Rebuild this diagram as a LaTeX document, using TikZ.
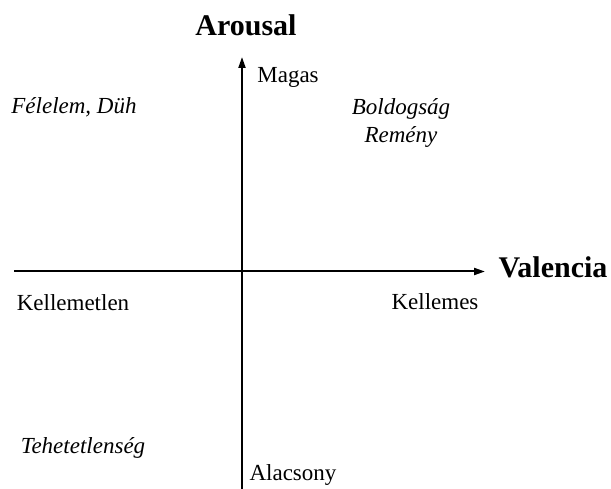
\documentclass[tikz,border=0pt]{standalone}
\usepackage{fontspec}
\setmainfont{Liberation Serif}
\usetikzlibrary{arrows.meta}

\begin{document}
\begin{tikzpicture}[x=1pt,y=-1pt]
  \useasboundingbox (0,0) rectangle (611,489);

  % the two axes
  \coordinate (west)  at (14,271.5);
  \coordinate (east)  at (485,271.5);
  \coordinate (south) at (242,489);
  \coordinate (north) at (242,57);

  \begin{scope}[every path/.style={line width=2pt, -{Triangle[length=11pt,width=7pt]}}]
    \draw (west) -- (east);
    \draw (south) -- (north);
  \end{scope}

  % axis titles
  \begin{scope}[every node/.style={anchor=base, inner sep=0pt, font=\fontsize{30}{34}\selectfont\bfseries}]
    \node (arousal)  at (246,36)  {Arousal};
    \node (valencia) at (553,278) {Valencia};
  \end{scope}

  % axis ends
  \begin{scope}[every node/.style={anchor=base, inner sep=0pt, font=\fontsize{23}{28}\selectfont}]
    \node (magas)       at (288,83)  {Magas};
    \node (alacsony)    at (293,480) {Alacsony};
    \node (kellemetlen) at (73,311)  {Kellemetlen};
    \node (kellemes)    at (435,310) {Kellemes};
  \end{scope}

  % emotions
  \begin{scope}[every node/.style={anchor=base, inner sep=0pt, font=\fontsize{23}{28}\selectfont\itshape}]
    \node (felelem)  at (74,114)  {Félelem, Düh};
    \node (boldog)   at (401,115) {Boldogság};
    \node (remeny)   at (401,143) {Remény};
    \node (tehetetl) at (83,453)  {Tehetetlenség};
  \end{scope}

\end{tikzpicture}
\end{document}
